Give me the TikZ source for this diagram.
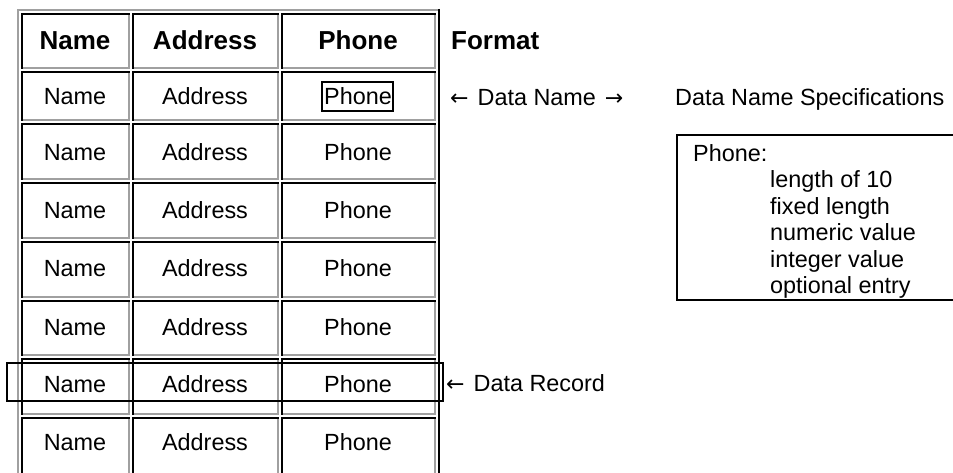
\documentclass[tikz,border=0pt]{standalone}
\usepackage{fontspec}
\setmainfont{Liberation Sans}
\newfontfamily\arrowfont{DejaVu Sans}
\usetikzlibrary{positioning}
\definecolor{bordergray}{RGB}{160,160,160}
\newcommand{\larr}{{\arrowfont\fontsize{22}{24}\selectfont ←}}
\newcommand{\rarr}{{\arrowfont\fontsize{22}{24}\selectfont →}}

\begin{document}
\begin{tikzpicture}[x=1pt,y=-1pt,
    every node/.style={inner sep=0pt,anchor=base,font=\fontsize{23.4}{28}\selectfont},
    head/.style={font=\fontsize{26}{30}\selectfont\bfseries}]
    \useasboundingbox (0,0) rectangle (953,473);
    % table frame
    \draw[bordergray, line width=2] (18,480) -- (18,10) -- (439,10);
    \draw[black, line width=2] (438.5,9) -- (438.5,480);
    \foreach \ya/\yb in {13/69,71/121,123/180,182/239,241/298,300/356,358/415,417/475}{
        \foreach \xa/\xb in {21/130,132/279,281/436}{
            \draw[black, line width=2] (\xa+1,\yb) -- (\xa+1,\ya+1) -- (\xb,\ya+1);
            \draw[bordergray, line width=2] (\xb-1,\ya+2) -- (\xb-1,\yb-1) -- (\xa+2,\yb-1);
        }
    }
    \node[head] (namehead) at (75,49.3) {Name};
    \node[head] (addresshead) at (205,49.3) {Address};
    \node[head] (phonehead) at (358,49.3) {Phone};
    \foreach \y [count=\i] in {96,152,210,268,327,384,442}{
        \node (name\i) at (75,\y+8.4) {Name};
        \node (address\i) at (205,\y+8.4) {Address};
        \node (phone\i) at (358,\y+8.4) {Phone};
    }
    \node[draw, line width=1.3, anchor=center, minimum width=71, minimum height=29] (phonebox) at (357.5,96.5) {};
    % \draw[red] (name6.west) -- (phone6.east);
    \draw[line width=1.3] (7,363) rectangle (443,401);
    % right hand notes
    \node[head, anchor=base west] (format) at (451,49.3) {Format};
    \node[anchor=base west] (dataname) at (450,105.4) {\larr\hspace{9pt}Data Name\hspace{9pt}\rarr};
    \node[anchor=base west] (specs) at (675,105.4) {Data Name Specifications};
    \node[anchor=base west] (datarecord) at (446,391.4) {\larr\hspace{9pt}Data Record};
    \draw[line width=1.5] (960,135) -- (677,135) -- (677,300) -- (960,300);
    \node[anchor=base west] (specphone) at (693,161.4) {Phone:};
    \foreach \t [count=\i] in {length of 10,fixed length,numeric value,integer value,optional entry}
        \node[anchor=base west] (spec\i) at (770,161.4+26.4*\i) {\t};
\end{tikzpicture}
\end{document}
